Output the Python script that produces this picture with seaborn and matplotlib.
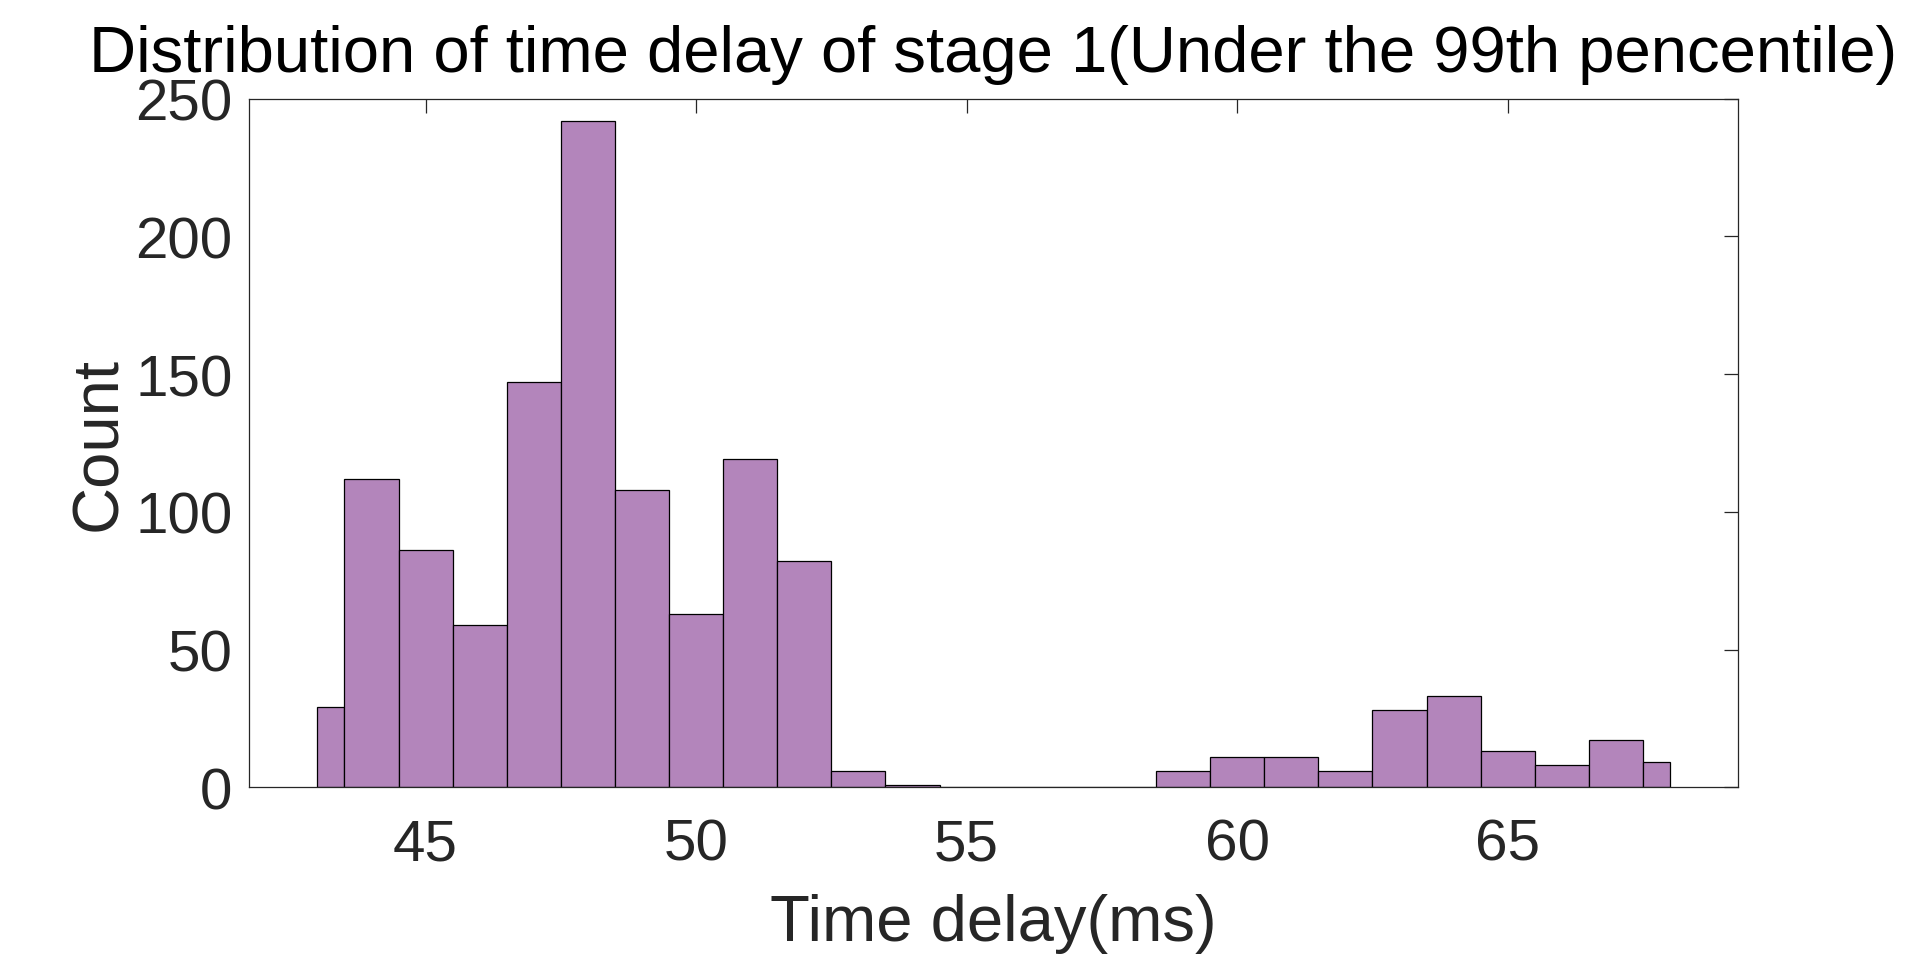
import numpy as np
import matplotlib
matplotlib.use("Agg")
import matplotlib.pyplot as plt
import seaborn as sns

# histogram bins (ms) and counts
bin_edges = [43.0, 43.5, 44.5, 45.5, 46.5, 47.5, 48.5, 49.5, 50.5, 51.5, 52.5,
             53.5, 54.5, 55.5, 56.5, 57.5, 58.5, 59.5, 60.5, 61.5, 62.5, 63.5,
             64.5, 65.5, 66.5, 67.5, 68.0]
counts = [29, 112, 86, 59, 147, 242, 108, 63, 119, 82, 6,
          1, 0, 0, 0, 0, 6, 11, 11, 6, 28,
          33, 13, 8, 17, 9]
x_ticks = [45, 50, 55, 60, 65]
y_ticks = [0, 50, 100, 150, 200, 250]

sns.set_style("white")
plt.rcParams['font.family'] = ['Liberation Sans', 'DejaVu Sans']

edges = np.array(bin_edges)
centers = (edges[:-1] + edges[1:]) / 2

fig = plt.figure(figsize=(19.2, 9.62), dpi=100)
ax = fig.add_axes([0.1298, 0.1806, 0.9050 - 0.1298, 0.8964 - 0.1806])

sns.histplot(x=centers, weights=counts, bins=bin_edges, ax=ax,
             color="#B385BB", alpha=1.0, edgecolor="black", linewidth=0.9)

ax.set_xlim(41.74, 69.25)
ax.set_ylim(0, 250)
ax.set_xticks(x_ticks)
ax.set_yticks(y_ticks)

for side in ax.spines.values():
    side.set_visible(True)
    side.set_color("#262626")
    side.set_linewidth(0.9)

ax.tick_params(direction="in", length=10, width=0.9, color="#262626",
               top=True, right=True, labelsize=42, labelcolor="#262626")
ax.tick_params(axis="x", pad=22)
ax.tick_params(axis="y", pad=12)

ax.set_title("Distribution of time delay of stage 1(Under the 99th pencentile)",
             fontsize=47, color="black", pad=20)
ax.set_xlabel("Time delay(ms)", fontsize=47, color="#262626", labelpad=15)
ax.set_ylabel("Count", fontsize=47, color="#262626", labelpad=4)

fig.savefig("out.png", dpi=100)
